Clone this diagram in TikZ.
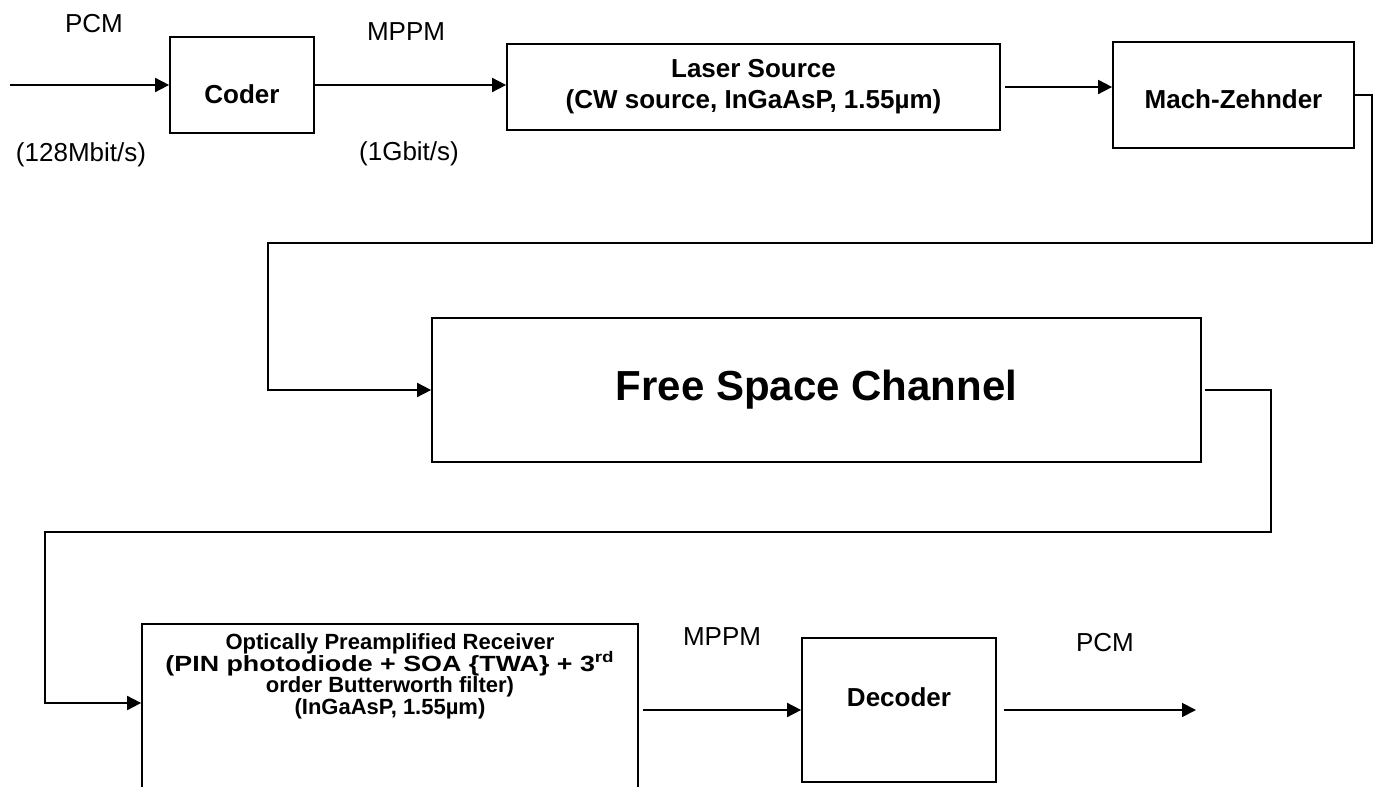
\documentclass[tikz,border=0pt]{standalone}
\usepackage{fontspec}
\usepackage{graphicx}
\setmainfont{Liberation Sans}
\usetikzlibrary{arrows.meta}
\newcommand{\rcvfont}{\bfseries\fontsize{16.5}{16.3}\selectfont\lineskiplimit=-100pt\relax}
\tikzset{
  blk/.style={draw, line width=1.3pt, align=center, inner sep=0pt, font=\bfseries\fontsize{19.5}{23.25}\selectfont},
  lbl/.style={inner sep=0pt, font=\fontsize{19.5}{23.25}\selectfont},
  arr/.style={-{Triangle[length=10.5pt, width=10.5pt]}, line width=1.3pt},
  drop/.style={text height=#1, text depth=0pt}
}

\begin{document}
\begin{tikzpicture}[x=0.75pt, y=-0.75pt]
  \useasboundingbox (0,0) rectangle (1377,787);

  % transmitter
  \node[blk, minimum width=108pt, minimum height=72pt, drop=27.5pt] (coder) at (242,85) {Coder};
  \node[blk, minimum width=369.75pt, minimum height=64.5pt] (laser) at (753.5,87) {Laser Source\\(CW source, InGaAsP, 1.55µm)};
  \node[blk, minimum width=180.75pt, minimum height=79.5pt, drop=20pt] (mz) at (1233.5,95) {Mach-Zehnder};

  % channel
  \node[blk, minimum width=576.75pt, minimum height=108pt, font=\bfseries\fontsize{31.5}{36}\selectfont] (fsc) at (816.5,390) {Free Space Channel};

  % receiver
  \node[blk, minimum width=372pt, minimum height=154.5pt] (rcv) at (390,727) {};
  \node[align=center, inner sep=0pt, anchor=north, yshift=-7.5pt, font=\rcvfont] (rcvtext) at (rcv.north)
        {Optically Preamplified Receiver\\\scalebox{1.22}[1]{(PIN photodiode + SOA \{TWA\} + 3\textsuperscript{rd}}\\order Butterworth filter)\\(InGaAsP, 1.55µm)};
  \node[blk, minimum width=145.5pt, minimum height=108pt, text height=0pt, text depth=5.5pt] (dec) at (899,710) {Decoder};

  % labels
  \node[lbl] (pcmtop) at (94,24) {PCM};
  \node[lbl] (ratein) at (81,155) {(128Mbit/s)};
  \node[lbl] (mppmtop) at (406,32) {MPPM};
  \node[lbl] (rateout) at (409,154) {(1Gbit/s)};
  \node[lbl] (mppmbot) at (722,637) {MPPM};
  \node[lbl] (pcmbot) at (1105,643) {PCM};

  \coordinate (src) at (10,85);
  \coordinate (loopA) at (268,243);
  \coordinate (loopB) at (45,532);
  \coordinate (sink) at (1196,710);

  % connectors
  \draw[arr] (src) -- (coder.west);
  \draw[arr] (coder.east) -- (coder.east -| laser.west);
  \draw[arr, shorten <=3pt] (laser.east) -- (laser.east -| mz.west);
  \draw[arr] (mz.east) -- ++(17,0) |- (loopA) |- (fsc.west);
  \draw[arr, shorten <=2pt] (fsc.east) -- ++(69,0) |- (loopB) |- ([yshift=18pt]rcv.west);
  \draw[arr, shorten <=3pt] (dec.west -| rcv.east) -- (dec.west);
  \draw[arr, shorten <=5pt] (dec.east) -- (sink);
\end{tikzpicture}
\end{document}
